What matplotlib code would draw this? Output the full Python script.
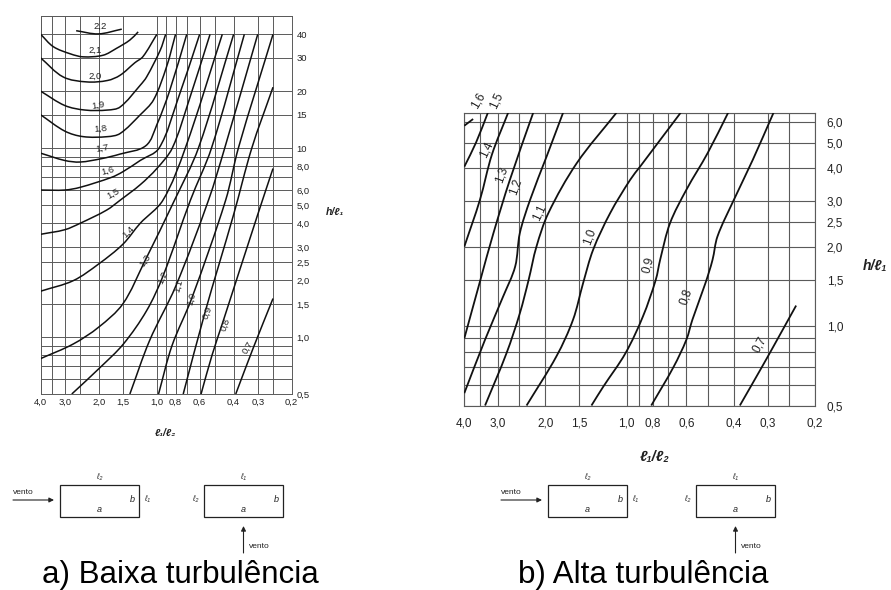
import numpy as np
import matplotlib
matplotlib.use('Agg')
import matplotlib.pyplot as plt
from matplotlib.patches import Rectangle, PathPatch
from matplotlib.path import Path
from matplotlib.ticker import NullLocator

plt.rcParams['font.family'] = ['Liberation Sans', 'DejaVu Sans']

# ---------------- axes values ----------------
x_grid = [4.0, 3.5, 3.0, 2.5, 2.0, 1.5, 1.0, 0.9, 0.8, 0.7, 0.6, 0.5, 0.4, 0.3, 0.25, 0.2]
x_ticks = [4.0, 3.0, 2.0, 1.5, 1.0, 0.8, 0.6, 0.4, 0.3, 0.2]
x_ticklabels = ["4,0", "3,0", "2,0", "1,5", "1,0", "0,8", "0,6", "0,4", "0,3", "0,2"]

ya_grid = [0.5, 0.6, 0.7, 0.8, 0.9, 1.0, 1.5, 2.0, 2.5, 3.0, 4.0, 5.0, 6.0, 7.0, 8.0, 9.0,
           10, 15, 20, 30, 40, 50]
ya_ticks = [40, 30, 20, 15, 10, 8, 6, 5, 4, 3, 2.5, 2, 1.5, 1, 0.5]
ya_ticklabels = ["40", "30", "20", "15", "10", "8,0", "6,0", "5,0", "4,0", "3,0", "2,5",
                 "2,0", "1,5", "1,0", "0,5"]

yb_grid = [0.5, 0.6, 0.7, 0.8, 0.9, 1.0, 1.5, 2.0, 2.5, 3.0, 4.0, 5.0, 6.0, 6.5]
yb_ticks = [6, 5, 4, 3, 2.5, 2, 1.5, 1, 0.5]
yb_ticklabels = ["6,0", "5,0", "4,0", "3,0", "2,5", "2,0", "1,5", "1,0", "0,5"]

# ---------------- a) low turbulence curves (l1/l2, h/l1) ----------------
a_22 = [(2.62, 41.8), (2.01, 40.2), (1.52, 42.6)]
a_21 = [(4.0, 40), (3.44, 34.4), (2.8, 31.5), (2.41, 30.4), (1.9, 31.0), (1.62, 33.7), (1.38, 37.3), (1.25, 41.2)]
a_20 = [(4.0, 30), (3.06, 23.8), (2.31, 22.4), (1.8, 22.8), (1.55, 24.3), (1.3, 28.3), (1.18, 30.5), (1.0, 40)]
a_19 = [(4.0, 20), (3.0, 16.8), (2.36, 15.9), (1.8, 15.9), (1.55, 16.5), (1.22, 21.5), (1.13, 23.8), (0.96, 33), (0.9, 40)]
a_18 = [(4.0, 15), (3.0, 12.3), (2.41, 11.5), (1.8, 11.5), (1.55, 11.95), (1.22, 15), (1.04, 18), (0.89, 27), (0.8, 40)]
a_17 = [(4.0, 9.4), (3.0, 8.6), (2.5, 8.44), (1.93, 8.8), (1.55, 9.3), (1.14, 10.3), (1.0, 13.3), (0.86, 20), (0.7, 40)]
a_16 = [(4.0, 6.0), (3.0, 6.0), (2.5, 6.2), (1.72, 7.0), (1.5, 7.5), (1.22, 8.6), (0.974, 10), (0.78, 18), (0.6, 40)]
a_15 = [(4.0, 3.5), (3.0, 3.7), (2.5, 4.0), (1.82, 4.7), (1.55, 5.3), (1.22, 6.4), (1.0, 7.8), (0.832, 10), (0.68, 18), (0.53, 40)]
a_14 = [(4.0, 1.75), (2.71, 1.99), (2.0, 2.44), (1.5, 3.1), (1.22, 4.0), (0.93, 5.3), (0.712, 10), (0.458, 40)]
a_13 = [(4.0, 0.77), (2.71, 0.92), (2.0, 1.13), (1.5, 1.5), (1.16, 2.5), (0.81, 5.3), (0.609, 10), (0.4, 40)]
a_12 = [(2.76, 0.5), (1.97, 0.69), (1.49, 0.92), (1.13, 1.38), (0.93, 2.1), (0.67, 5.3), (0.521, 10), (0.352, 40)]
a_11 = [(1.38, 0.5), (1.09, 0.96), (0.8, 1.85), (0.54, 5.3), (0.445, 10), (0.3, 40)]
a_10 = [(0.98, 0.5), (0.835, 0.9), (0.66, 1.6), (0.44, 5.3), (0.378, 10), (0.25, 40)]
a_09 = [(0.73, 0.5), (0.563, 1.35), (0.4, 4.45), (0.322, 10), (0.25, 21)]
a_08 = [(0.59, 0.5), (0.518, 0.8), (0.455, 1.2), (0.3, 4.45), (0.25, 7.8)]
a_07 = [(0.39, 0.5), (0.316, 0.88), (0.25, 1.6)]
a_curves = [a_22, a_21, a_20, a_19, a_18, a_17, a_16, a_15, a_14, a_13, a_12, a_11, a_10, a_09, a_08, a_07]

# curve labels: text, x, y, rotation
a_labels = [("2,2", 1.97, 43.9, 0), ("2,1", 2.09, 33.0, 0), ("2,0", 2.09, 24.1, 0),
            ("1,9", 2.01, 16.9, 10), ("1,8", 1.97, 12.7, 5), ("1,7", 1.93, 10.0, 10),
            ("1,6", 1.79, 7.63, 15), ("1,5", 1.68, 5.78, 30), ("1,4", 1.41, 3.59, 45),
            ("1,3", 1.15, 2.54, 55), ("1,2", 0.93, 2.07, 65), ("1,1", 0.775, 1.87, 75),
            ("1,0", 0.66, 1.59, 75), ("0,9", 0.55, 1.35, 70), ("0,8", 0.443, 1.17, 70),
            ("0,7", 0.337, 0.88, 60)]

# ---------------- b) high turbulence curves ----------------
b_16 = [(4.0, 5.8), (3.71, 6.15)]
b_15 = [(4.0, 4.05), (3.62, 5.0), (3.27, 6.5)]
b_14 = [(4.0, 2.01), (3.5, 3.03), (3.16, 4.5), (2.75, 6.5)]
b_13 = [(4.0, 0.9), (3.5, 1.48), (3.12, 2.26), (2.71, 3.61), (2.22, 6.5)]
b_12 = [(4.0, 0.557), (3.35, 0.89), (2.87, 1.30), (2.59, 1.69), (2.49, 2.26), (2.28, 3.03), (1.98, 4.43), (1.72, 6.5)]
b_11 = [(3.35, 0.5), (2.79, 0.79), (2.49, 1.12), (2.31, 1.50), (2.16, 2.01), (1.95, 2.70), (1.53, 4.18), (1.09, 6.5)]
b_10 = [(2.35, 0.5), (1.82, 0.77), (1.58, 1.06), (1.45, 1.46), (1.33, 1.96), (1.15, 2.70), (0.97, 3.61), (0.89, 4.06), (0.63, 6.5)]
b_09 = [(1.35, 0.5), (1.22, 0.59), (1.01, 0.79), (0.87, 1.09), (0.78, 1.50), (0.75, 1.8), (0.69, 2.47), (0.60, 3.31), (0.50, 4.57), (0.42, 6.5)]
b_08 = [(0.81, 0.5), (0.67, 0.70), (0.60, 0.89), (0.57, 1.06), (0.51, 1.46), (0.48, 1.79), (0.46, 2.20), (0.40, 3.03), (0.34, 4.31), (0.285, 6.5)]
b_07 = [(0.38, 0.5), (0.32, 0.68), (0.285, 0.84), (0.235, 1.20)]
b_curves = [b_16, b_15, b_14, b_13, b_12, b_11, b_10, b_09, b_08, b_07]

b_labels = [("1,6", 3.55, 7.2, 60), ("1,5", 3.03, 7.2, 65), ("1,4", 3.30, 4.7, 65),
            ("1,3", 2.9, 3.78, 70), ("1,2", 2.59, 3.41, 70), ("1,1", 2.10, 2.70, 65),
            ("1,0", 1.37, 2.2, 70), ("0,9", 0.83, 1.71, 75), ("0,8", 0.60, 1.30, 70),
            ("0,7", 0.32, 0.85, 60)]

titles = ["a) Baixa turbulência", "b) Alta turbulência"]

# ---------------- figure ----------------
W, H = 891, 590
fig = plt.figure(figsize=(W / 100, H / 100), dpi=100)
GRID_C = '#5a5a5a'
TXT_C = '#222222'


def make_axes(rect_px, ygrid, ylim, yticks, yticklabels, fs, ypad, xpad, gl):
    x0, y0, x1, y1 = rect_px
    ax = fig.add_axes([x0 / W, 1 - y1 / H, (x1 - x0) / W, (y1 - y0) / H])
    ax.set_xscale('log')
    ax.set_yscale('log')
    ax.set_xlim(4.0, 0.2)
    ax.set_ylim(*ylim)
    for v in x_grid:
        ax.axvline(v, color=GRID_C, lw=gl, zorder=1)
    for v in ygrid:
        ax.axhline(v, color=GRID_C, lw=gl, zorder=1)
    ax.set_xticks(x_ticks)
    ax.set_xticklabels(x_ticklabels)
    ax.set_yticks(yticks)
    ax.set_yticklabels(yticklabels)
    ax.xaxis.set_minor_locator(NullLocator())
    ax.yaxis.set_minor_locator(NullLocator())
    ax.yaxis.tick_right()
    ax.tick_params(axis='both', length=0, labelsize=fs, colors=TXT_C)
    ax.tick_params(axis='y', pad=ypad)
    ax.tick_params(axis='x', pad=xpad)
    for s in ax.spines.values():
        s.set_color(GRID_C)
        s.set_linewidth(gl)
    return ax


def smooth_curve(ax, pts, lw):
    """Draw a smooth Bezier path (built in log space) through the read points."""
    P = np.log10(np.array(pts, dtype=float))
    n = len(P)
    if n == 2:
        verts = [tuple(10 ** P[0]), tuple(10 ** P[1])]
        codes = [Path.MOVETO, Path.LINETO]
    else:
        tang = np.zeros_like(P)
        for i in range(n):
            if i == 0:
                d = P[1] - P[0]
            elif i == n - 1:
                d = P[-1] - P[-2]
            else:
                d = P[i + 1] - P[i - 1]
            tang[i] = d / np.hypot(*d)
        verts = [tuple(10 ** P[0])]
        codes = [Path.MOVETO]
        for i in range(n - 1):
            L = np.hypot(*(P[i + 1] - P[i])) / 3.0
            c1 = P[i] + tang[i] * L
            c2 = P[i + 1] - tang[i + 1] * L
            verts += [tuple(10 ** c1), tuple(10 ** c2), tuple(10 ** P[i + 1])]
            codes += [Path.CURVE4] * 3
    patch = PathPatch(Path(verts, codes), fill=False, ec='#111111', lw=lw, zorder=3,
                      transform=ax.transData, capstyle='butt')
    ax.add_patch(patch)


axA = make_axes((40.7, 16, 291.7, 394), ya_grid, (0.5, 50), ya_ticks, ya_ticklabels, 6.8, 3.6, 3.0, 0.7)
axB = make_axes((464.3, 112.7, 815, 405.5), yb_grid, (0.5, 6.5), yb_ticks, yb_ticklabels, 8.5, 8.4, 9.0, 0.8)

for c in a_curves:
    smooth_curve(axA, c, 1.1)
for t, x, y, r in a_labels:
    axA.text(x, y, t, fontsize=6.8, rotation=r, ha='center', va='center', color=TXT_C, zorder=4)

for c in b_curves:
    smooth_curve(axB, c, 1.3)
for t, x, y, r in b_labels:
    axB.text(x, y, t, fontsize=8.5, rotation=r, ha='center', va='center', color=TXT_C, zorder=4,
             clip_on=False)

# axis titles
fam = ['Liberation Sans', 'DejaVu Sans']
fig.text(326 / W, 1 - 212 / H, "h/ℓ₁", fontsize=7.5, style='italic', weight='bold',
         ha='left', va='center', color=TXT_C, family=fam)
fig.text(165 / W, 1 - 433 / H, "ℓ₁/ℓ₂", fontsize=7.5, style='italic', weight='bold',
         ha='center', va='center', color=TXT_C, family=fam)
fig.text(863 / W, 1 - 266 / H, "h/ℓ₁", fontsize=10, style='italic', weight='bold',
         ha='left', va='center', color=TXT_C, family=fam)
fig.text(655 / W, 1 - 457 / H, "ℓ₁/ℓ₂", fontsize=10.5, style='italic', weight='bold',
         ha='center', va='center', color=TXT_C, family=fam)

# ---------------- wind diagrams (overlay in pixel space) ----------------
ov = fig.add_axes([0, 0, 1, 1])
ov.set_xlim(0, W)
ov.set_ylim(H, 0)
ov.axis('off')


def diagram(xl, xr):
    rw, ry, rh = 79, 485, 32
    ov.add_patch(Rectangle((xl, ry), rw, rh, fill=False, ec='#222222', lw=0.9))
    ov.add_patch(Rectangle((xr, ry), rw, rh, fill=False, ec='#222222', lw=0.9))
    ov.text(xl + rw / 2, 477, "ℓ₂", fontsize=5.5, ha='center', va='center', style='italic', family=fam, color=TXT_C)
    ov.text(xl + rw - 7, 500, "b", fontsize=6.5, ha='center', va='center', style='italic', color=TXT_C)
    ov.text(xl + rw + 8, 500, "ℓ₁", fontsize=5.5, ha='center', va='center', style='italic', family=fam, color=TXT_C)
    ov.text(xl + rw / 2, 510, "a", fontsize=6.5, ha='center', va='center', style='italic', color=TXT_C)
    ov.annotate("", xy=(xl - 6, 500), xytext=(xl - 47, 500),
                arrowprops=dict(arrowstyle='-|>', color='#222222', lw=0.8, mutation_scale=7,
                                shrinkA=0, shrinkB=0))
    ov.text(xl - 47, 493, "vento", fontsize=6, ha='left', va='center', color=TXT_C)
    ov.text(xr + rw / 2, 477, "ℓ₁", fontsize=5.5, ha='center', va='center', style='italic', family=fam, color=TXT_C)
    ov.text(xr - 8, 500, "ℓ₂", fontsize=5.5, ha='center', va='center', style='italic', family=fam, color=TXT_C)
    ov.text(xr + rw - 7, 500, "b", fontsize=6.5, ha='center', va='center', style='italic', color=TXT_C)
    ov.text(xr + rw / 2, 510, "a", fontsize=6.5, ha='center', va='center', style='italic', color=TXT_C)
    ov.annotate("", xy=(xr + rw / 2, 526), xytext=(xr + rw / 2, 553),
                arrowprops=dict(arrowstyle='-|>', color='#222222', lw=0.8, mutation_scale=7,
                                shrinkA=0, shrinkB=0))
    ov.text(xr + rw / 2 + 5, 547, "vento", fontsize=6, ha='left', va='center', color=TXT_C)


diagram(60, 204)
diagram(548, 696)

ov.text(42, 583, titles[0], fontsize=22.5, ha='left', va='baseline', color='black')
ov.text(518, 583, titles[1], fontsize=22.5, ha='left', va='baseline', color='black')

fig.savefig('out.png', dpi=100, facecolor='white')
